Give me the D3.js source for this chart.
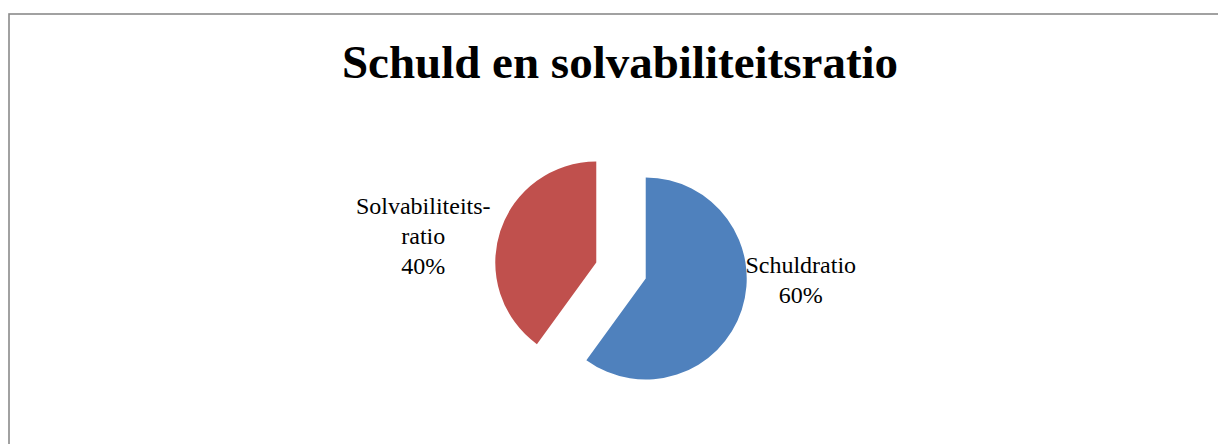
<!DOCTYPE html>
<html>
<head>
<meta charset="utf-8">
<script src="https://cdn.jsdelivr.net/npm/d3@7"></script>
<style>
  body { margin: 0; background: #ffffff; }
  svg { display: block; }
  text { font-family: "Liberation Serif", "DejaVu Serif", serif; }
</style>
</head>
<body>
<div id="chart"></div>
<script>
// Chart data
const CATEGORIES = ["Schuldratio", "Solvabiliteitsratio"];
const LABEL_LINES = [["Schuldratio", "60%"], ["Solvabiliteits-", "ratio", "40%"]];
const VALUES = [60, 40];
const COLORS = ["#4f81bd", "#c0504d"];
const TITLE = "Schuld en solvabiliteitsratio";

// Frame dimensions
const FRAME_WIDTH = 1218;
const FRAME_HEIGHT = 444;
const PIE_CENTER = {x: 621, y: 270.5};
const RADIUS = 101;
const EXPLODE = 26;
const LINE_HEIGHT = 30;

const FRAME = d3.select("#chart").append("svg")
    .attr("width", FRAME_WIDTH)
    .attr("height", FRAME_HEIGHT);

// Outer chart border
FRAME.append("rect")
    .attr("x", 9)
    .attr("y", 14)
    .attr("width", FRAME_WIDTH + 20)
    .attr("height", FRAME_HEIGHT + 20)
    .attr("fill", "none")
    .attr("stroke", "#8a8a8a")
    .attr("stroke-width", 1.6);

// Title
FRAME.append("text")
    .attr("x", 620)
    .attr("y", 78)
    .attr("text-anchor", "middle")
    .attr("font-weight", "bold")
    .attr("font-size", "47px")
    .attr("fill", "#000")
    .text(TITLE);

// Pie layout, clockwise from the top
const pie = d3.pie().sort(null).startAngle(0).endAngle(2 * Math.PI);
const arc = d3.arc().innerRadius(0).outerRadius(RADIUS);
const arcs = pie(VALUES);

function offset(d, dist) {
    const a = (d.startAngle + d.endAngle) / 2;
    return [Math.sin(a) * dist, -Math.cos(a) * dist];
}

const g = FRAME.append("g")
    .attr("transform", "translate(" + PIE_CENTER.x + "," + PIE_CENTER.y + ")");

g.selectAll("path")
    .data(arcs)
    .enter()
    .append("path")
    .attr("d", arc)
    .attr("transform", (d) => { const o = offset(d, EXPLODE); return "translate(" + o[0] + "," + o[1] + ")"; })
    .attr("fill", (d, i) => COLORS[i]);

// Data labels, placed beside each slice
const LABEL_SHIFT = [[155, 1], [-173, -26]];

const labels = g.selectAll("text.lbl")
    .data(arcs)
    .enter()
    .append("text")
    .attr("class", "lbl")
    .attr("text-anchor", "middle")
    .attr("font-size", "24px")
    .attr("fill", "#000")
    .attr("transform", (d, i) => {
        const o = offset(d, EXPLODE);
        return "translate(" + (o[0] + LABEL_SHIFT[i][0]) + "," + (o[1] + LABEL_SHIFT[i][1]) + ")";
    });

labels.each(function(d, i) {
    const lines = LABEL_LINES[i];
    const top = -(lines.length - 1) * LINE_HEIGHT / 2;
    d3.select(this).selectAll("tspan")
        .data(lines)
        .enter()
        .append("tspan")
        .attr("x", 0)
        .attr("y", (t, j) => top + j * LINE_HEIGHT + 8)
        .text((t) => t);
});
</script>
</body>
</html>
